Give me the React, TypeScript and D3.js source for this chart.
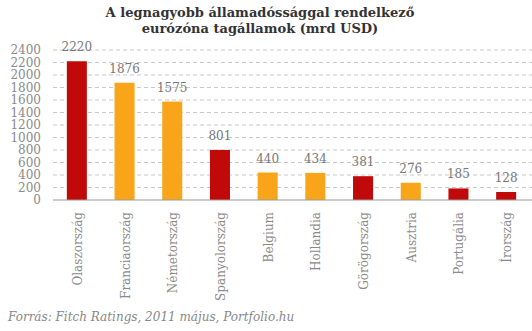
import React from "react";
import * as d3 from "d3";

const categories = ["Olaszország", "Franciaország", "Németország", "Spanyolország", "Belgium", "Hollandia", "Görögország", "Ausztria", "Portugália", "Írország"];
const values = [2220, 1876, 1575, 801, 440, 434, 381, 276, 185, 128];
const highlighted = [true, false, false, true, false, false, true, false, true, true];
const yTicks = [0, 200, 400, 600, 800, 1000, 1200, 1400, 1600, 1800, 2000, 2200, 2400];
const titleLines = ["A legnagyobb államadóssággal rendelkező", "eurózóna tagállamok (mrd USD)"];
const footer = "Forrás: Fitch Ratings, 2011 május, Portfolio.hu";

const W = 532, H = 331;
const FONT = "'DejaVu Serif', 'Liberation Serif', serif";

export default function App() {
  const x = d3.scaleBand<string>().domain(categories).range([53, 530]).paddingInner(0.58).paddingOuter(0.29);
  const y = d3.scaleLinear().domain([0, 2400]).range([200, 50]);
  const red = "#C00A0A", orange = "#F9A51A";
  return (
    <svg width={W} height={H} style={{ position: "absolute", left: 0, top: 0, background: "#fff" }} fontFamily={FONT}>
      {titleLines.map((t, i) => (
        <text key={i} x={260} y={17 + i * 16} textAnchor="middle" fontWeight="bold" fontSize={13} fill="#333">{t}</text>
      ))}
      {yTicks.filter(t => t > 0).map(t => (
        <line key={t} x1={53} x2={532} y1={y(t)} y2={y(t)} stroke="#c8c8c8" strokeDasharray="4,3" />
      ))}
      {yTicks.map(t => (
        <text key={t} x={41} y={y(t)} dy="0.35em" textAnchor="end" fontSize={12} fill="#8a8a8a">{t}</text>
      ))}
      {categories.map((c, i) => {
        const bx = x(c)!;
        const top = y(values[i]);
        return (
          <g key={c}>
            <rect x={bx} y={top} width={x.bandwidth()} height={y(0) - top} fill={highlighted[i] ? red : orange} />
            <text x={bx + x.bandwidth() / 2} y={top - 10} textAnchor="middle" fontSize={12} fill="#777">{values[i]}</text>
            <text transform={`translate(${bx + x.bandwidth() / 2 + 5},212) rotate(-90)`} textAnchor="end" fontSize={12} fill="#8a8a8a">{c}</text>
          </g>
        );
      })}
      <line x1={53} x2={532} y1={y(0)} y2={y(0)} stroke="#999" strokeWidth={1} />
      <text x={8} y={321} fontStyle="italic" fontSize={12} fill="#888">{footer}</text>
    </svg>
  );
}
